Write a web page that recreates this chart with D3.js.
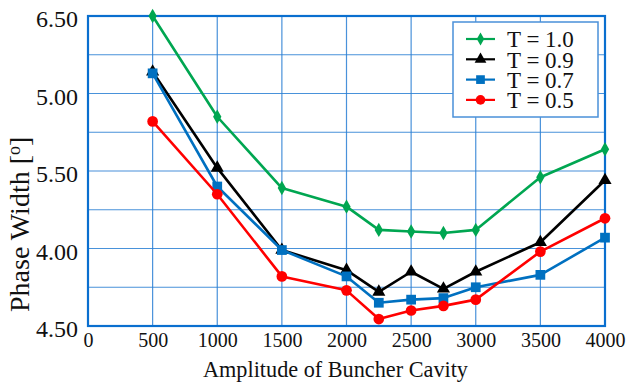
<!DOCTYPE html>
<html><head><meta charset="utf-8">
<script src="https://cdn.jsdelivr.net/npm/d3@7"></script>
<style>body{margin:0;background:#fff}svg{display:block}svg text{font-family:"Liberation Serif","DejaVu Serif",serif !important}</style>
</head><body>
<svg id="c" width="630" height="383"></svg>
<script>
const amplitudes = [500,1000,1500,2000,2250,2500,2750,3000,3500,4000];
const t10 = [6.50,5.85,5.39,5.27,5.12,5.11,5.10,5.12,5.46,5.64];
const t09 = [6.14,5.52,4.99,4.86,4.72,4.85,4.74,4.85,5.04,5.44];
const t07 = [6.13,5.40,4.99,4.82,4.65,4.67,4.68,4.75,4.83,5.07];
const t05 = [5.82,5.35,4.82,4.73,4.545,4.60,4.63,4.67,4.98,5.195];
const xTicks = [0,500,1000,1500,2000,2500,3000,3500,4000];
const yTicks = [6.5,6.0,5.5,5.0,4.5];
const yTickLabels = ["6.50","5.00","5.50","4.00","4.50"];
const seriesNames = ["T = 1.0","T = 0.9","T = 0.7","T = 0.5"];

const series = [
  {name:seriesNames[0], values:t10, color:"#00a651", marker:"diamond"},
  {name:seriesNames[1], values:t09, color:"#000000", marker:"triangle"},
  {name:seriesNames[2], values:t07, color:"#0070c0", marker:"square"},
  {name:seriesNames[3], values:t05, color:"#ff0000", marker:"circle"}
];

const svg = d3.select("#c");
const L=88, R=605, T=16, B=326;
const x = d3.scaleLinear().domain([0,4000]).range([L,R]);
const y = d3.scaleLinear().domain([4.5,6.5]).range([B,T]);
const font = "Liberation Serif";

// grid
const g = svg.append("g");
g.selectAll("line.v").data(d3.range(500,4000,500)).enter().append("line")
  .attr("x1",d=>x(d)).attr("x2",d=>x(d)).attr("y1",T).attr("y2",B)
  .attr("stroke","#2a7fd4").attr("stroke-width",1.2).attr("opacity",0.85);
g.selectAll("line.h").data(d3.range(4.75,6.5,0.25)).enter().append("line")
  .attr("y1",d=>y(d)).attr("y2",d=>y(d)).attr("x1",L).attr("x2",R)
  .attr("stroke","#2a7fd4").attr("stroke-width",1.2).attr("opacity",0.85);
svg.append("rect").attr("x",L).attr("y",T).attr("width",R-L).attr("height",B-T)
  .attr("fill","none").attr("stroke","#0a6fcf").attr("stroke-width",2.2);

// axes labels
const xAxis = d3.axisBottom(x).tickValues(xTicks).tickSize(0).tickPadding(0).tickFormat(d3.format("d"));
const xa = svg.append("g").attr("transform",`translate(0,${B})`).call(xAxis);
xa.attr("font-family",null);
xa.select(".domain").remove();
xa.selectAll("text").attr("font-family",font).attr("font-size",20).attr("fill","#111").attr("dy",0).attr("y",21);

const yAxis = d3.axisLeft(y).tickValues(yTicks).tickSize(0).tickPadding(0).tickFormat((d,i)=>yTickLabels[i]);
const ya = svg.append("g").attr("transform",`translate(${L-10},0)`).call(yAxis);
ya.attr("font-family",null);
ya.select(".domain").remove();
ya.selectAll("text").attr("font-family",font).attr("font-size",24).attr("fill","#111").attr("dy","0.36em").attr("y",2);

svg.append("text").attr("x",203).attr("y",377).attr("text-anchor","start")
  .attr("font-family",font).attr("font-size",23.5).attr("fill","#111")
  .attr("textLength",265).attr("lengthAdjust","spacingAndGlyphs")
  .text("Amplitude of Buncher Cavity");
const yt = svg.append("text").attr("transform",`translate(29,312) rotate(-90)`).attr("text-anchor","start")
  .attr("font-family",font).attr("font-size",28).attr("fill","#111");
yt.append("tspan").text("Phase Width [");
yt.append("tspan").attr("font-size",18).attr("dy",-9).text("o");
yt.append("tspan").attr("dy",9).text("]");

const symbols = {diamond:d3.symbolDiamond, triangle:d3.symbolTriangle, square:d3.symbolSquare, circle:d3.symbolCircle};
const sizes = {diamond:60, triangle:75, square:95, circle:90};
const line = d3.line().x((d,i)=>x(amplitudes[i])).y(d=>y(d));

series.forEach(s=>{
  svg.append("path").attr("d",line(s.values)).attr("fill","none").attr("stroke",s.color).attr("stroke-width",2.6).attr("stroke-linejoin","round");
  svg.selectAll(null).data(s.values).enter().append("path")
    .attr("d",d3.symbol().type(symbols[s.marker]).size(sizes[s.marker]))
    .attr("transform",(d,i)=>`translate(${x(amplitudes[i])},${y(d)})`)
    .attr("fill",s.color);
});

// legend
const lg = svg.append("g");
lg.append("rect").attr("x",453).attr("y",22).attr("width",145).attr("height",95)
  .attr("fill","#fff").attr("stroke","#4a90d9").attr("stroke-width",1.5);
series.forEach((s,i)=>{
  const yy = 39 + i*20.3;
  lg.append("line").attr("x1",466).attr("x2",495).attr("y1",yy).attr("y2",yy).attr("stroke",s.color).attr("stroke-width",2.2);
  lg.append("path").attr("d",d3.symbol().type(symbols[s.marker]).size(sizes[s.marker]*0.8)).attr("transform",`translate(480.5,${yy})`).attr("fill",s.color);
  lg.append("text").attr("x",507).attr("y",yy).attr("dy","0.36em").attr("font-family",font).attr("font-size",23).attr("fill","#111").text(s.name);
});
</script>
</body></html>
